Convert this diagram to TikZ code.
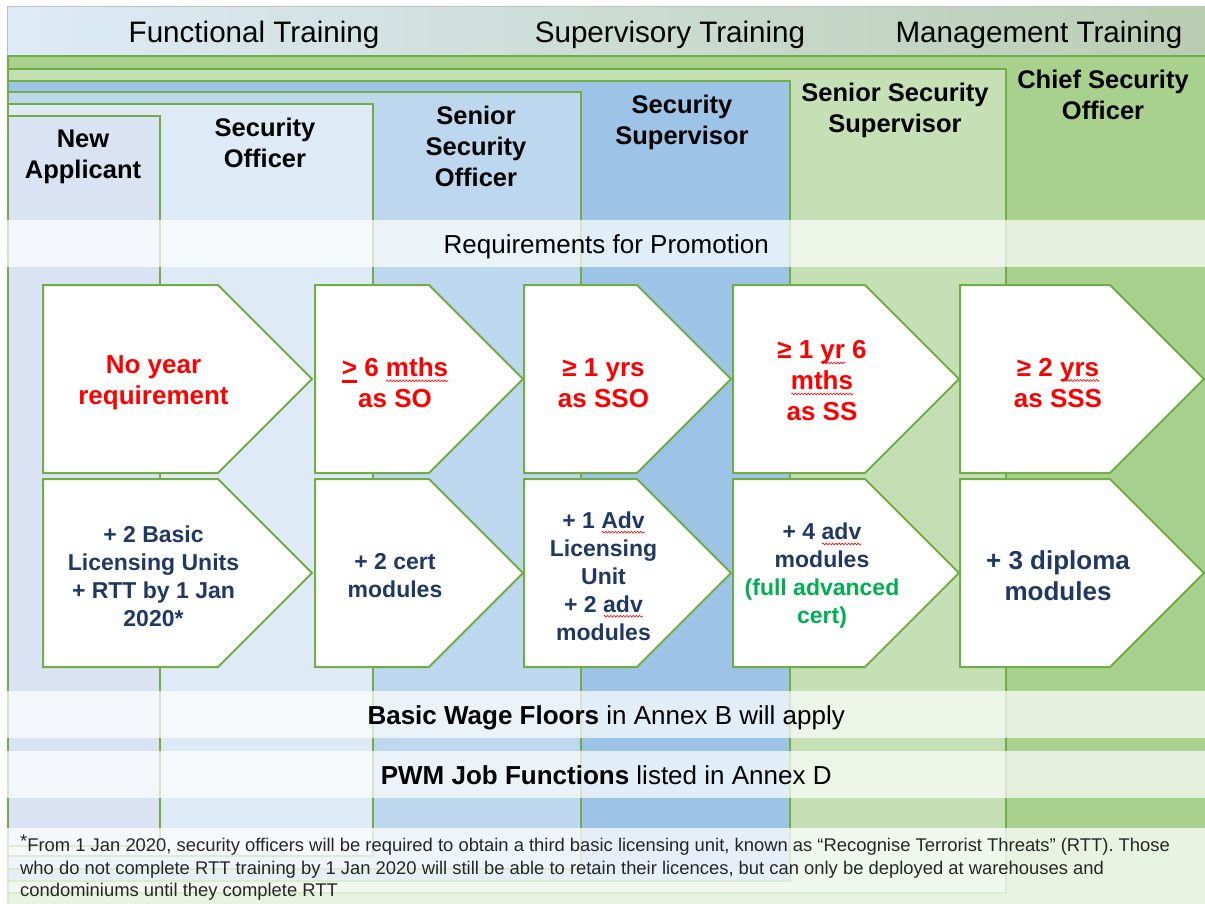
\documentclass[tikz,border=0pt]{standalone}
\usepackage{fontspec}
\setmainfont{Liberation Sans}
\usepackage{tikz}
\usetikzlibrary{positioning,shapes.symbols,decorations.pathmorphing}

\definecolor{pgreen}{HTML}{70AD47}
\definecolor{cNA}{HTML}{DAE3F3}
\definecolor{cSO}{HTML}{DEEBF7}
\definecolor{cSSO}{HTML}{BDD7EE}
\definecolor{cSS}{HTML}{9DC3E6}
\definecolor{cSSS}{HTML}{C5E0B4}
\definecolor{cCSO}{HTML}{A9D18E}
\definecolor{navy}{HTML}{203864}
\definecolor{okgreen}{HTML}{00B050}
\definecolor{hdleft}{HTML}{DEEBF8}
\definecolor{hdright}{HTML}{B9CDB1}

\newlength{\sqlen}
\newcommand{\sqg}[1]{\settowidth{\sqlen}{#1}\rlap{\tikz[baseline=4pt]\draw[sqline] (0pt,0pt) -- (\sqlen,0pt);}#1}
\newcommand{\gequl}{\rlap{\rule[-6pt]{15pt}{3pt}}>}

\tikzset{
	col/.style={draw=pgreen, line width=2pt, anchor=north west, inner sep=0pt},
	arr/.style={signal, signal to=east, signal from=nowhere, signal pointer angle=90,
			draw=pgreen, line width=2pt, fill=white, minimum height=188pt, inner sep=0pt, anchor=west},
	band/.style={fill=white, fill opacity=0.7, text opacity=1, minimum width=1198pt, minimum height=47pt,
			inner sep=0pt, text height=26pt, text depth=6pt, anchor=north west, font=\fontsize{26}{30}\selectfont},
	req/.style={align=center, text=red, font=\bfseries\fontsize{26}{31}\selectfont},
	mod/.style={align=center, text=navy, font=\bfseries\fontsize{23}{28}\selectfont},
	sqline/.style={red, line width=0.6pt, decorate, decoration={snake, amplitude=0.9pt, segment length=3.2pt}}
}

\begin{document}
\begin{tikzpicture}[x=1pt,y=-1pt]
    \tikzstyle{head}=[align=center, inner sep=0pt, anchor=north, font=\bfseries\fontsize{25.5}{31}\selectfont]
    \tikzstyle{train}=[anchor=base, font=\fontsize{29.6}{34}\selectfont]
  \useasboundingbox (0,0) rectangle (1205,904);
  \fill[white] (0,0) rectangle (1205,904);

  \node[anchor=north west, draw=black!25, left color=hdleft, right color=hdright,
        minimum width=1198pt, minimum height=49pt, inner sep=0pt] (hdr) at (7,6) {};
  \node[train] (ft) at (254,43) {Functional Training};
  \node[train] (st) at (670,43) {Supervisory Training};
  \node[train] (mt) at (1039,43) {Management Training};

  \node[col, fill=cCSO, minimum width=1210pt, minimum height=870pt] (cso) at (7,55) {};
  \node[col, fill=cSSS, minimum width=998pt, minimum height=824pt] (sss) at (7,68) {};
  \node[col, fill=cSS, minimum width=782pt, minimum height=800pt] (ss) at (7,80) {};
  \node[col, fill=cSSO, minimum width=573pt, minimum height=777pt] (sso) at (7,91) {};
  \node[col, fill=cSO, minimum width=365pt, minimum height=752pt] (so) at (7,103) {};
  \node[col, fill=cNA, minimum width=152pt, minimum height=730pt] (na) at (7,115) {};

  \node[head] (hna) at (83,130) {New\\Applicant};
  \node[head] (hso) at (265,118) {Security\\Officer};
  \node[head] (hsso) at (476,106) {Senior\\Security\\Officer};
  \node[head] (hss) at (682,95) {Security\\Supervisor};
  \node[head] (hsss) at (895,83) {Senior Security\\Supervisor};
  \node[head] (hcso) at (1103,70) {Chief Security\\Officer};

  \node[band] (promo) at (7,220) {Requirements for Promotion};

  \node[arr, minimum width=269pt] (a1) at (42,379) {};
  \node[arr, minimum width=208pt] (a2) at (314,379) {};
  \node[arr, minimum width=207pt] (a3) at (523,379) {};
  \node[arr, minimum width=226pt] (a4) at (732,379) {};
  \node[arr, minimum width=244pt] (a5) at (959,379) {};
  \node[arr, minimum width=269pt, below=4pt of a1] (b1) {};
  \node[arr, minimum width=208pt, below=4pt of a2] (b2) {};
  \node[arr, minimum width=207pt, below=4pt of a3] (b3) {};
  \node[arr, minimum width=226pt, below=4pt of a4] (b4) {};
  \node[arr, minimum width=244pt, below=4pt of a5] (b5) {};

  \node[req] (r1) at ([xshift=23pt,yshift=-4pt]a1.center) {No year\\requirement};
  \node[req] (r2) at ([xshift=23pt,yshift=-4pt]a2.center) {\gequl{} 6 \sqg{mths}\\as SO};
  \node[req] (r3) at ([xshift=23pt,yshift=-4pt]a3.center) {≥ 1 yrs\\as SSO};
  \node[req] (r4) at ([xshift=23pt,yshift=-2pt]a4.center) {≥ 1 \sqg{yr} 6\\\sqg{mths}\\as SS};
  \node[req] (r5) at ([xshift=23pt,yshift=-4pt]a5.center) {≥ 2 \sqg{yrs}\\as SSS};

  \node[mod] (m1) at ([xshift=23pt,yshift=-3pt]b1.center) {+ 2 Basic\\Licensing Units\\+ RTT by 1 Jan\\2020*};
  \node[mod] (m2) at ([xshift=23pt,yshift=-3pt]b2.center) {+ 2 cert\\modules};
  \node[mod] (m3) at ([xshift=23pt,yshift=-3pt]b3.center) {+ 1 \sqg{Adv}\\Licensing\\Unit\\+ 2 \sqg{adv}\\modules};
  \node[mod] (m4) at ([xshift=23pt,yshift=-3pt]b4.center) {+ 4 \sqg{adv}\\modules\\\textcolor{okgreen}{(full advanced}\\\textcolor{okgreen}{cert)}};
  \node[mod, font=\bfseries\fontsize{26}{31}\selectfont] (m5) at ([xshift=23pt,yshift=-3pt]b5.center) {+ 3 diploma\\modules};

  \node[band] (wage) at (7,691) {\textbf{Basic Wage Floors} in Annex B will apply};
  \node[band] (pwm) at (7,751) {\textbf{PWM Job Functions} listed in Annex D};

  \node[anchor=north west, fill=white, fill opacity=0.75, minimum width=1198pt,
        minimum height=80pt, inner sep=0pt] (fnbg) at (7,828) {};
  \node[anchor=north west, align=left, inner sep=0pt, text=black!85,
        font=\fontsize{18.4}{22.5}\selectfont] (fn) at (20,838)
    {\smash{\raisebox{4pt}{*}}From 1 Jan 2020, security officers will be required to obtain a third basic licensing unit, known as “Recognise Terrorist Threats” (RTT). Those\\
     who do not complete RTT training by 1 Jan 2020 will still be able to retain their licences, but can only be deployed at warehouses and\\
     condominiums until they complete RTT};
\end{tikzpicture}
\end{document}
